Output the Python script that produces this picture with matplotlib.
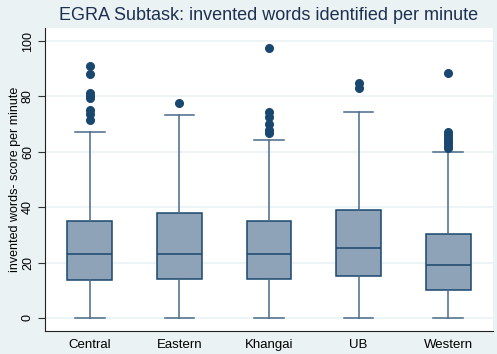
import matplotlib
matplotlib.use("Agg")
import matplotlib.pyplot as plt

plt.rcParams['font.family'] = ['Liberation Sans', 'DejaVu Sans']

regions = ["Central", "Eastern", "Khangai", "UB", "Western"]
q1 = [13.7, 14.1, 14.1, 15.0, 10.1]
median = [23.1, 23.1, 23.1, 25.2, 19.0]
q3 = [35.1, 38.0, 35.1, 39.1, 30.2]
whisker_lo = [0, 0, 0, 0, 0]
whisker_hi = [67.3, 73.3, 64.2, 74.2, 60.0]
outliers = [
    [91.1, 88.2, 81.3, 80.3, 79.3, 75.1, 73.5, 71.5],
    [77.5],
    [97.4, 74.5, 72.4, 69.9, 67.9, 66.7],
    [84.7, 83.2],
    [88.3, 67.0, 66.0, 65.0, 64.0, 63.0, 62.0, 61.2],
]
yticks = [0, 20, 40, 60, 80, 100]

navy = "#1a476f"
fill = "#8ea3b7"
bg = "#eaf2f3"

fig = plt.figure(figsize=(4.97, 3.54), dpi=100, facecolor=bg)
ax = fig.add_axes([45 / 497, 1 - 330.7 / 354, (493 - 45) / 497, (330.7 - 28) / 354])
ax.set_facecolor("white")

stats = []
for i, name in enumerate(regions):
    stats.append(dict(label=name, q1=q1[i], med=median[i], q3=q3[i],
                      whislo=whisker_lo[i], whishi=whisker_hi[i], fliers=outliers[i]))

ax.bxp(stats, positions=range(1, len(regions) + 1), widths=0.5, patch_artist=True,
       boxprops=dict(facecolor=fill, edgecolor=navy, linewidth=1.1),
       medianprops=dict(color=navy, linewidth=1.1),
       whiskerprops=dict(color="#4a6a88", linewidth=1.1),
       capprops=dict(color="#4a6a88", linewidth=1.1),
       capwidths=0.33,
       flierprops=dict(marker="o", markerfacecolor=navy, markeredgecolor=navy, markersize=5.5))

ax.set_xlim(0.5, 5.5)
ax.set_ylim(-4.6, 104.7)
ax.set_yticks(yticks)
ax.set_yticklabels([str(t) for t in yticks], rotation=90, va="center", fontsize=9)
ax.tick_params(axis="y", length=5, color="#333333", pad=3)
ax.tick_params(axis="x", length=0, pad=6, labelsize=9.5)
ax.yaxis.grid(True, color=bg, linewidth=1.2)
ax.set_axisbelow(True)

for side in ("top", "right"):
    ax.spines[side].set_visible(False)
ax.spines["left"].set_color("#222222")
ax.spines["bottom"].set_color("#222222")

ax.set_ylabel("invented words- score per minute", fontsize=9)
ax.yaxis.set_label_coords(-24 / 448, 0.5)
fig.text(269 / 497, 1 - 15 / 354, "EGRA Subtask: invented words identified per minute",
         ha="center", va="center", fontsize=13, color="#1e3050")

fig.savefig("out.png", dpi=100, facecolor=bg)
